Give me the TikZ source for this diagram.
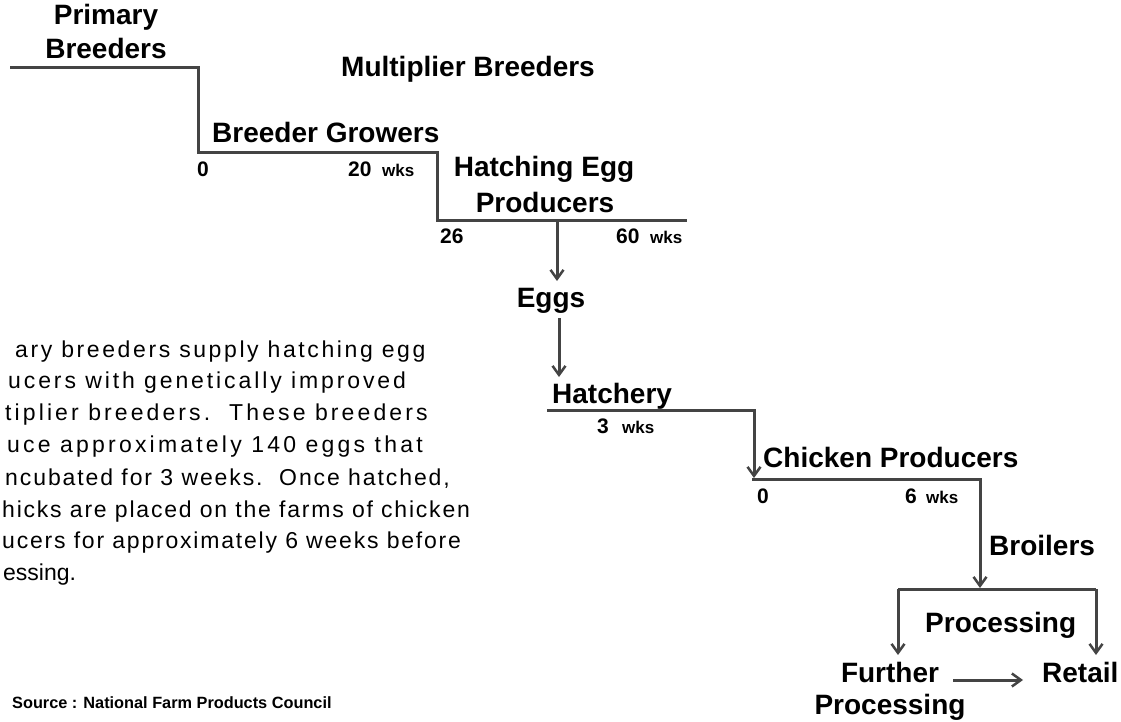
\documentclass[tikz,border=0pt]{standalone}
\usepackage{fontspec}
\setmainfont{Liberation Sans}
\usetikzlibrary{arrows.meta}
\definecolor{lnc}{HTML}{444444}
\newcommand{\lsline}[2]{{\addfontfeature{LetterSpace=#1}#2}}
\begin{document}
\begin{tikzpicture}[x=1pt,y=-1pt,
  lbl/.style={font=\fontsize{28}{34}\selectfont\bfseries, inner sep=0pt, text=black},
  num/.style={font=\fontsize{21}{25}\selectfont\bfseries, inner sep=0pt, anchor=base west},
  wk/.style={font=\fontsize{17}{20}\selectfont\bfseries, inner sep=0pt, anchor=base west},
  para/.style={font=\fontsize{23}{27}\selectfont, inner sep=0pt, anchor=base west},
  src/.style={font=\fontsize{16.3}{19}\selectfont\bfseries, inner sep=0pt, anchor=base west},
  ln/.style={draw=lnc, line width=3pt, line cap=butt, line join=miter},
  arr/.style={ln, -{Straight Barb[length=9pt,width=13pt,line width=2.5pt]}}]
\useasboundingbox[fill=white] (0,0) rectangle (1121,722);

% ---- staircase corners ----
\coordinate (s0) at (10,68);
\coordinate (s1) at (198,68);
\coordinate (s2) at (198,153);
\coordinate (s3) at (437,153);
\coordinate (s4) at (437,220);
\coordinate (s5) at (687,220);
\draw[ln] (s0) -- (s1) -- (s2) -- (s3) -- (s4) -- (s5);

% ---- labels ----
\node[lbl, anchor=base] (pb1) at (106,25) {Primary};
\node[lbl, anchor=base] (pb2) at (106,59) {Breeders};
\node[lbl, anchor=base] (mb) at (468,77) {Multiplier Breeders};
\node[lbl, anchor=base west] (bg) at (212,143) {Breeder Growers};
\node[num] (n0a) at (197,177) {0};
\node[num] (n20) at (348,177) {20};
\node[wk] (w20) at (382,177) {wks};
\node[lbl, anchor=base] (he1) at (544,177) {Hatching Egg};
\node[lbl, anchor=base] (he2) at (545,212) {Producers};
\node[num] (n26) at (440,243) {26};
\node[num] (n60) at (616,243) {60};
\node[wk] (w60) at (650,243) {wks};

% ---- eggs ----
\coordinate (e0) at (557,220);
\coordinate (e1) at (557,281);
\draw[arr] (e0) -- (e1);
\node[lbl, anchor=base] (eggs) at (551,307) {Eggs};
\coordinate (e2) at (559,318);
\coordinate (e3) at (559,377);
\draw[arr] (e2) -- (e3);

% ---- hatchery ----
\node[lbl, anchor=base west] (hat) at (552,403) {Hatchery};
\node[num] (n3) at (597,433) {3};
\node[wk] (w3) at (622,433) {wks};
\coordinate (h0) at (547,410);
\coordinate (h1) at (754,410);
\coordinate (h2) at (754,478);
\draw[arr] (h0) -- (h1) -- (h2);

% ---- chicken producers ----
\node[lbl, anchor=base west] (cp) at (763,467) {Chicken Producers};
\node[num] (n0b) at (757,503) {0};
\node[num] (n6) at (905,503) {6};
\node[wk] (w6) at (926,503) {wks};
\coordinate (c0) at (752,479);
\coordinate (c1) at (980,479);
\coordinate (c2) at (980,588);
\draw[arr] (c0) -- (c1) -- (c2);
\node[lbl, anchor=base west] (bro) at (989,555) {Broilers};

% ---- processing ----
\coordinate (p0) at (898,589);
\coordinate (p1) at (1096,589);
\coordinate (p2) at (898,655);
\coordinate (p3) at (1096,655);
\draw[ln] (p0) -- (p1);
\draw[arr] (p0) -- (p2);
\draw[arr] (p1) -- (p3);
\node[lbl, anchor=base west] (proc) at (925,632) {Processing};
\node[lbl, anchor=base] (fp1) at (890,682) {Further};
\node[lbl, anchor=base] (fp2) at (890,714) {Processing};
\node[lbl, anchor=base west] (ret) at (1042,682) {Retail};
\coordinate (f0) at (953,680);
\coordinate (f1) at (1023,680);
\draw[arr] (f0) -- (f1);

% ---- paragraph ----
\node[para] (t1) at (15,357) {\lsline{11.3}{ary breeders supply hatching egg}};
\node[para] (t2) at (8,388) {\lsline{12.6}{ucers with genetically improved}};
\node[para] (t3) at (5,420) {\lsline{13.5}{tiplier breeders.\ \ These breeders}};
\node[para] (t4) at (7,452) {\lsline{13.9}{uce approximately 140 eggs that}};
\node[para] (t5) at (5,485) {\lsline{8.3}{ncubated for 3 weeks.\ \ Once hatched,}};
\node[para] (t6) at (2,517) {\lsline{7.8}{hicks are placed on the farms of chicken}};
\node[para] (t7) at (2,548) {\lsline{7.8}{ucers for approximately 6 weeks before}};
\node[para] (t8) at (3,580) {essing.};

% ---- source ----
\node[src] (srcn) at (12,708) {Source : National Farm Products Council};
\end{tikzpicture}
\end{document}
